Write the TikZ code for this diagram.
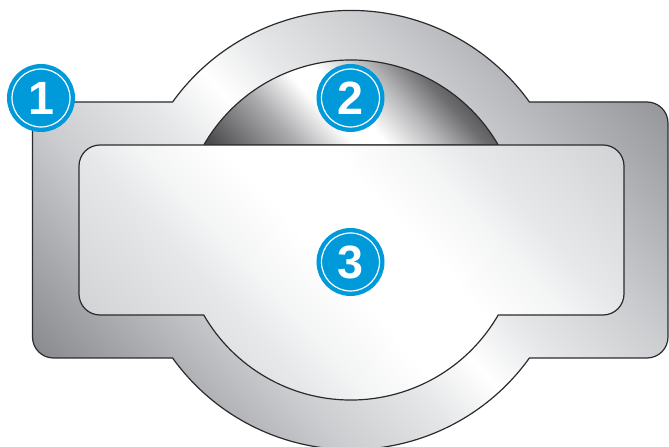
\documentclass[tikz,border=0pt]{standalone}
\usepackage{fontspec}
\setsansfont{Liberation Sans}
\usepackage{xcolor}
\usepackage{tikz}
\definecolor{badgeblue}{HTML}{009ADA}
\definecolor{edgegray}{HTML}{2B2A2C}
\pgfdeclarehorizontalshading{ringshade}{100bp}{
  rgb(0bp)=(.53,.535,.55); rgb(20.6bp)=(.53,.535,.55); rgb(36.2bp)=(.80,.805,.815);
  rgb(44.5bp)=(.90,.905,.91); rgb(50bp)=(1,1,1); rgb(55.5bp)=(.90,.905,.91);
  rgb(63.8bp)=(.80,.805,.815); rgb(79.4bp)=(.58,.585,.60); rgb(100bp)=(.58,.585,.60)}
\pgfdeclarehorizontalshading{panelshade}{100bp}{
  rgb(0bp)=(.82,.825,.835); rgb(23.7bp)=(.82,.825,.835); rgb(37.6bp)=(.905,.91,.915);
  rgb(42.4bp)=(.955,.958,.96); rgb(49.7bp)=(1,1,1); rgb(59.3bp)=(1,1,1);
  rgb(66.6bp)=(.955,.958,.96); rgb(71.4bp)=(.905,.91,.915); rgb(85.3bp)=(.82,.825,.835);
  rgb(100bp)=(.82,.825,.835)}
\pgfdeclarehorizontalshading{domeshade}{100bp}{
  rgb(0bp)=(.29,.29,.30); rgb(16bp)=(.29,.29,.30); rgb(31.4bp)=(.67,.67,.68);
  rgb(41.7bp)=(1,1,1); rgb(47.6bp)=(1,1,1); rgb(57.5bp)=(.71,.71,.72);
  rgb(65.3bp)=(.43,.43,.44); rgb(68.9bp)=(.35,.35,.36); rgb(100bp)=(.33,.33,.34)}

\begin{document}
\begin{tikzpicture}[x=0.75pt, y=0.75pt,
  part/.style={draw=edgegray, line width=0.9pt, shading angle=43},
  badge/.style={circle, fill=badgeblue, draw=white, line width=0.9pt,
                preaction={draw=badgeblue, line width=7.5pt},
                minimum size=43.5pt, inner sep=0pt,
                text=white, font=\sffamily\bfseries\fontsize{35}{35}\selectfont}]
\path[use as bounding box, clip] (0,0) rectangle (669,447);
% outer body
\shade[part, shading=ringshade] (172.6,345) arc[start angle=144.34, end angle=35.66, radius=219.6]
  -- (647,345) arc[start angle=90, end angle=0, radius=21]
  -- (668,110) arc[start angle=0, end angle=-90, radius=21]
  -- (529.4,89) arc[start angle=-35.66, end angle=-144.34, radius=219.6]
  -- (53.5,89) arc[start angle=270, end angle=180, radius=21]
  -- (32.5,345) -- cycle;
% dome
\shade[part, shading=domeshade] (203.8,302) arc[start angle=150, end angle=30, radius=170] -- cycle;
% front panel
\shade[part, shading=panelshade] (100,302) -- (603,302) arc[start angle=90, end angle=0, radius=21]
  -- (624,153) arc[start angle=0, end angle=-90, radius=21]
  -- (498.2,132) arc[start angle=-30, end angle=-150, radius=170]
  -- (100,132) arc[start angle=270, end angle=180, radius=21]
  -- (79,281) arc[start angle=180, end angle=90, radius=21] -- cycle;
% numbered badges
\node[badge] (one) at (41,349) {1};
\node[badge] (two) at (350.5,349) {2};
\node[badge] (three) at (350.5,185) {3};
\end{tikzpicture}
\end{document}
